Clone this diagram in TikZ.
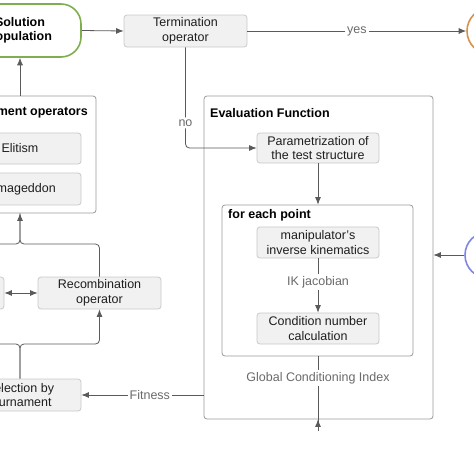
\documentclass[tikz,border=0pt]{standalone}
\usepackage{fontspec}
\setmainfont{Liberation Sans}
\usetikzlibrary{arrows.meta}
\definecolor{boxfill}{HTML}{F1F1F1}
\definecolor{boxline}{HTML}{C9C9C9}
\definecolor{contline}{HTML}{9A9A9A}
\definecolor{wire}{HTML}{5A5A5A}
\definecolor{lbl}{HTML}{6A6A6A}
\definecolor{txt}{HTML}{1E1E1E}
\definecolor{solgreen}{HTML}{7FAE4E}
\definecolor{endorange}{HTML}{D8914A}
\definecolor{startblue}{HTML}{7F86E6}
\begin{document}
\begin{tikzpicture}[x=1pt,y=-1pt,
 opbox/.style={draw=boxline, fill=boxfill, rounded corners=3pt, line width=0.8pt, minimum width=122pt, minimum height=31pt, inner sep=0pt, align=center, text=txt, font=\fontsize{12.5}{14.5}\selectfont},
 container/.style={draw=contline, fill=white, rounded corners=3pt, line width=0.8pt, inner sep=0pt},
 boxtitle/.style={font=\bfseries\fontsize{12.5}{14}\selectfont, text=black, inner sep=0pt},
 wirelabel/.style={fill=white, text=lbl, font=\fontsize{12.5}{14.5}\selectfont, inner sep=2pt},
 link/.style={draw=wire, line width=0.8pt},
 arr/.style={link, -{Latex[length=7.5pt,width=6pt]}},
 terminal/.style={circle, line width=1.6pt, fill=white, minimum size=46pt, inner sep=0pt},
]
\useasboundingbox (0,0) rectangle (474,474);
\clip (0,0) rectangle (474,474);

% containers
\node[container, minimum width=229pt, minimum height=323pt] (evalbox) at (318.5,257.5) {};
\node[boxtitle, anchor=west] (evaltitle) at (210,113) {Evaluation Function};
\node[container, minimum width=191pt, minimum height=151pt] (each) at (317.5,280.5) {};
\node[boxtitle, anchor=west] (eachtitle) at (228,215) {for each point};
\node[container, minimum width=152pt, minimum height=117pt] (repl) at (20,154.5) {};
\node[boxtitle, anchor=east] (repltitle) at (88,112) {Replacement operators};

% nodes
\node[draw=solgreen, line width=1.6pt, fill=white, rounded corners=20pt, minimum width=122pt, minimum height=53pt, inner sep=0pt, align=center, font=\bfseries\fontsize{12.5}{14.5}\selectfont] (sol) at (20,30.5) {Solution\\population};
\node[opbox, minimum width=123pt, minimum height=32pt] (term) at (185.5,31) {Termination\\operator};
\node[terminal, draw=endorange] (fin) at (490,31) {};
\node[terminal, draw=startblue] (start) at (488,255) {};
\node[opbox, minimum height=30pt] (param) at (318,148) {Parametrization of\\the test structure};
\node[opbox] (manip) at (318,242.5) {manipulator's\\inverse kinematics};
\node[opbox] (cond) at (318,328.5) {Condition number\\calculation};
\node[text=lbl, font=\fontsize{12.5}{14.5}\selectfont, inner sep=2pt] (ik) at (318,282) {IK jacobian};
\node[text=lbl, font=\fontsize{12.5}{14.5}\selectfont, inner sep=2pt] (gci) at (318,378) {Global Conditioning Index};
\node[opbox] (elit) at (20,148.5) {Elitism};
\node[opbox, minimum height=32pt] (arma) at (20,189) {Armageddon};
\node[opbox, minimum height=32pt] (mut) at (-57,293) {};
\node[opbox, minimum width=123pt, minimum height=32pt] (recomb) at (99.5,293) {Recombination\\operator};
\node[opbox, minimum height=32pt] (sel) at (20,395) {Selection by\\tournament};

\coordinate (jt) at (20,244);
\coordinate (jb) at (20,344);
\coordinate (bot) at (318,431);

% connectors
\draw[arr] (sol.east) -- (term.west);
\draw[arr] (term.east) -- node[wirelabel]{yes} (fin.west);
\draw[arr, rounded corners=4pt] (term.south) -- node[wirelabel, pos=0.75]{no} (term.south |- param.west) -- (param.west);
\draw[arr] (param.south) -- (param.south |- each.north);
\draw[link] (manip.south) -- (ik);
\draw[arr] (ik) -- (cond.north);
\draw[link] (each.south -| gci) -- (gci);
\draw[link] (gci) -- (bot);
\draw[arr] (bot) -- (bot |- evalbox.south);
\draw[arr] (start.west) -- (start.west -| evalbox.east);
\draw[arr] (evalbox.west |- sel.east) -- node[wirelabel, pos=0.44]{Fitness} (sel.east);
\draw[arr] (repl.north) -- (sol.south);
\draw[arr, rounded corners=4pt] (recomb.north) |- (jt) -- (repl.south);
\draw[link, rounded corners=4pt] (mut.north) |- (jt) -- (repl.south);
\draw[arr, rounded corners=4pt] (sel.north) -- (jb) -| (recomb.south);
\draw[arr, rounded corners=4pt] (sel.north) -- (jb) -| (mut.south);
\draw[link, {Latex[length=7.5pt,width=6pt]}-{Latex[length=7.5pt,width=6pt]}] (mut.east) -- (recomb.west);
\end{tikzpicture}
\end{document}
